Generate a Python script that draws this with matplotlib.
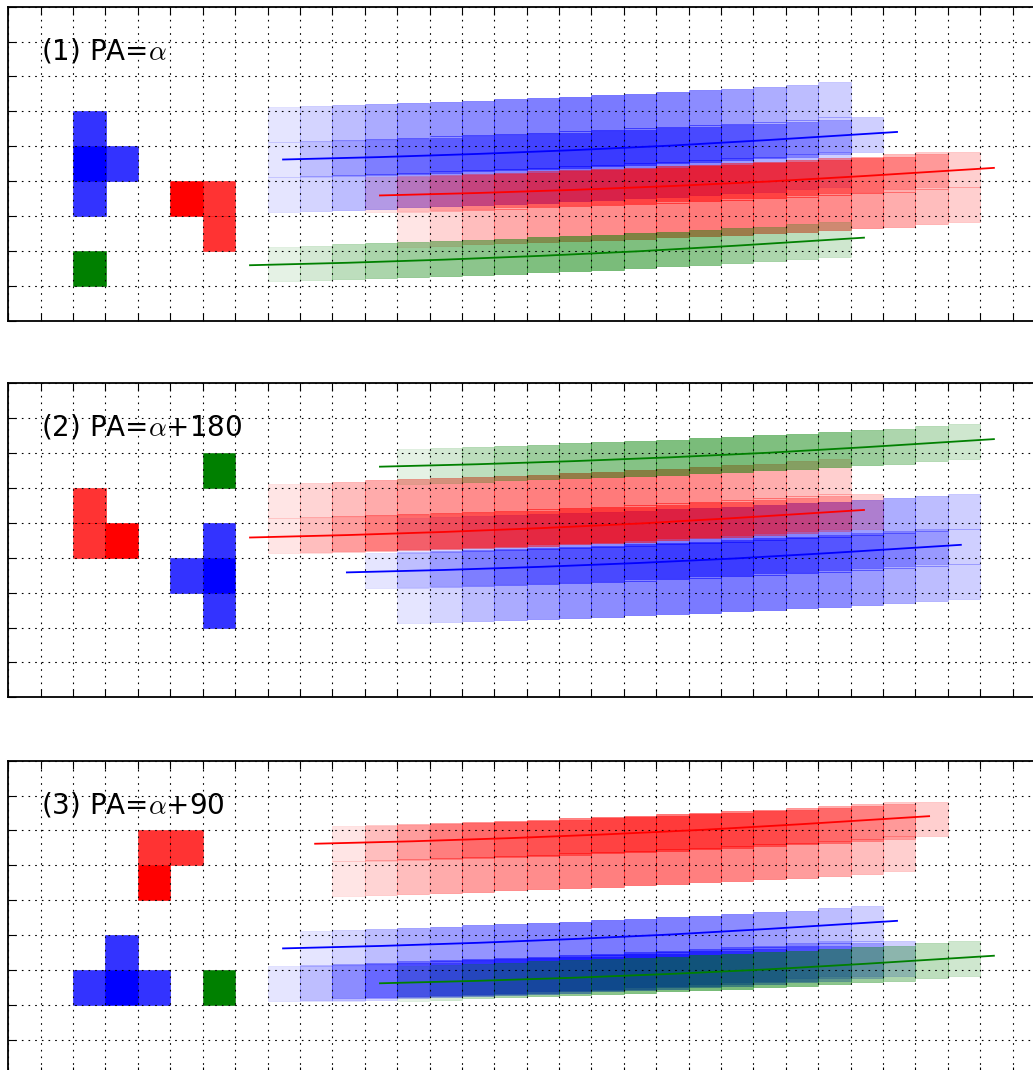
import numpy as np
import matplotlib.pyplot as plt
from matplotlib.patches import Rectangle

plt.rcParams['mathtext.fontset'] = 'cm'

titles = ['(1) PA=$\\alpha$', '(2) PA=$\\alpha$+180', '(3) PA=$\\alpha$+90']

# direct image pixels (lower-left corner of each cell), one list per panel
blue_px = [[2, 2, 3, 2], [6, 6, 6, 5], [3, 2, 3, 4]]
blue_py = [[5, 4, 4, 3], [4, 3, 2, 3], [3, 2, 2, 2]]
blue_pa = [[.8, 1, .8, .8], [.8, 1, .8, .8], [.8, .8, 1, .8]]

red_px = [[5, 6, 6], [2, 2, 3], [4, 5, 4]]
red_py = [[3, 3, 2], [5, 4, 4], [6, 6, 5]]
red_pa = [[1, .8, .8], [.8, .8, 1], [.8, .8, 1]]

green_px = [[2], [6], [6]]
green_py = [[1], [6], [2]]
green_pa = [[1], [1], [1]]

# dispersed trace of one pixel: x shift of first cell, drift and opacity per cell
trace_shift = 6
trace_dy = [0.125, 0.155, 0.185, 0.215, 0.245, 0.28, 0.31, 0.345, 0.385,
            0.425, 0.465, 0.51, 0.555, 0.60, 0.65, 0.70, 0.765, 0.83]
trace_alpha = [0.10, 0.17, 0.26, 0.33, 0.38, 0.42, 0.45, 0.48, 0.50,
               0.52, 0.52, 0.50, 0.48, 0.45, 0.39, 0.32, 0.26, 0.19]

# trace centre lines: start point per panel + common curvature
blue_line = [(8.48, 4.62), (10.45, 3.58), (8.48, 3.62)]
red_line = [(11.47, 3.59), (7.46, 4.58), (9.47, 6.62)]
green_line = [(7.46, 1.59), (11.47, 6.61), (11.47, 2.62)]
line_dx = [0, 3, 6, 9, 12, 15, 18.95]
line_dy = [0, 0.07, 0.16, 0.27, 0.40, 0.56, 0.79]

colors = ['b', 'r', 'g']
all_px = [blue_px, red_px, green_px]
all_py = [blue_py, red_py, green_py]
all_pa = [blue_pa, red_pa, green_pa]
all_line = [blue_line, red_line, green_line]

W, H = 1033, 1070
tops = [6.7, 383.3, 760.7]  # pixel row of each panel's top spine

fig = plt.figure(figsize=(W / 100, H / 100), dpi=100)

for k in range(3):
    ax = fig.add_axes([8.3 / W, (H - tops[k] - 314) / H, 32 * 32.4 / W, 314 / H])
    ax.set_xlim(0, 32)
    ax.set_ylim(0, 9)
    ax.set_xticks(range(33))
    ax.set_yticks(range(10))
    ax.tick_params(direction='in', length=6, width=0.8, top=True, right=True,
                   labelbottom=False, labelleft=False)
    ax.grid(True, color='k', linestyle=(0, (1.5, 4.5)), linewidth=0.8)
    for s in ax.spines.values():
        s.set_linewidth(1.3)

    # dispersed traces
    for c, pxs, pys in zip(colors, all_px, all_py):
        for x0, y0 in zip(pxs[k], pys[k]):
            for i, (dy, a) in enumerate(zip(trace_dy, trace_alpha)):
                ax.add_patch(Rectangle((x0 + trace_shift + i, y0 + dy), 1, 1,
                                       facecolor=c, edgecolor=c, lw=0.5, alpha=a))

    # direct image
    for c, pxs, pys, pas in zip(colors, all_px, all_py, all_pa):
        for x0, y0, a in zip(pxs[k], pys[k], pas[k]):
            ax.add_patch(Rectangle((x0, y0), 1, 1, facecolor=c, edgecolor=c,
                                   lw=0.4, alpha=a))

    # trace centre lines
    for c, lines in zip(colors, all_line):
        xs, ys = lines[k]
        ax.plot(xs + np.array(line_dx), ys + np.array(line_dy), color=c, lw=1.3)

    ax.text(1.0, 7.5, titles[k], fontsize=20, va='baseline', ha='left')

fig.savefig('out.png', dpi=100)
